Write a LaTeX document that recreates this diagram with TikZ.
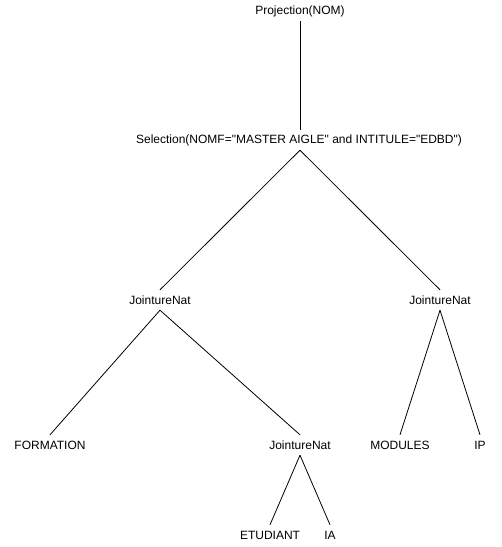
\documentclass[tikz,border=0pt]{standalone}
\usepackage{fontspec}
\newfontfamily\treefont{Liberation Sans}
\begin{document}
\begin{tikzpicture}
[x=1pt,y=-1pt,
  opdecorate/.style={inner sep=0pt,minimum height=20pt,font=\treefont\fontsize{12}{14}\selectfont},%
  linkdecorate/.style={draw=black,line width=0.8pt}]
\useasboundingbox (0,0) rectangle (502,547);
% nodes or vertices
\node (proj) at (300,11) [opdecorate] {Projection(NOM)};
\node (sel) at (299,140) [opdecorate] {Selection(NOMF="MASTER AIGLE" and INTITULE="EDBD")};
\node (jn1) at (160,300) [opdecorate] {JointureNat};
\node (jn2) at (440,300) [opdecorate] {JointureNat};
\node (form) at (50,445) [opdecorate] {FORMATION};
\node (jn3) at (300,445) [opdecorate] {JointureNat};
\node (mod) at (400,445) [opdecorate] {MODULES};
\node (ip) at (480,445) [opdecorate] {IP};
\node (etu) at (270,535) [opdecorate] {ETUDIANT};
\node (ia) at (330,535) [opdecorate] {IA};
% edges or lines
\path
(proj.south) edge[linkdecorate] (sel.north -| proj.south)
(sel.south -| proj.south) edge[linkdecorate] (jn1.north)
(sel.south -| proj.south) edge[linkdecorate] (jn2.north)
(jn1.south) edge[linkdecorate] (form.north)
(jn1.south) edge[linkdecorate] (jn3.north)
(jn2.south) edge[linkdecorate] (mod.north)
(jn2.south) edge[linkdecorate] (ip.north)
(jn3.south) edge[linkdecorate] (etu.north)
(jn3.south) edge[linkdecorate] (ia.north);
\end{tikzpicture}
\end{document}
